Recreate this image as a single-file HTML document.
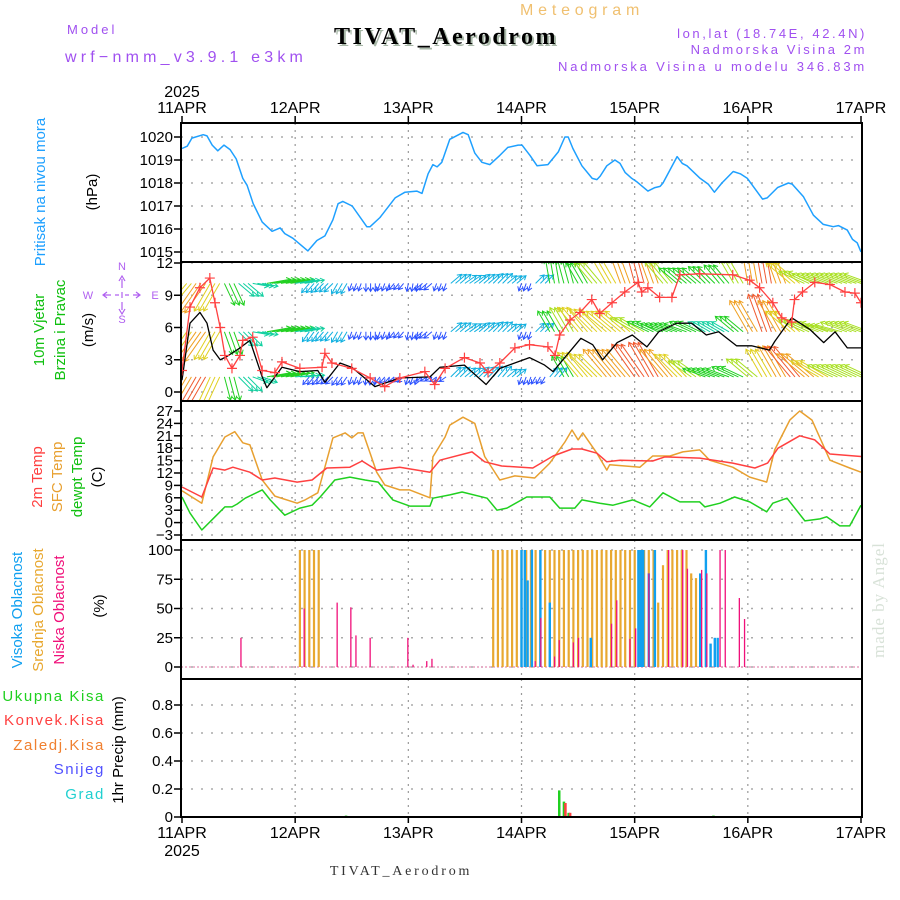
<!DOCTYPE html>
<html><head><meta charset="utf-8"><style>
html,body{margin:0;padding:0;background:#fff;}
svg{display:block;font-family:"Liberation Sans",sans-serif;}
</style></head><body>
<svg id="chart" width="900" height="900" viewBox="0 0 900 900" xmlns="http://www.w3.org/2000/svg">
<rect width="900" height="900" fill="#fff"/>
<text x="67" y="34" font-size="13" fill="#a050f0" letter-spacing="3">Model</text>
<text x="65" y="62" font-size="16" fill="#a050f0" letter-spacing="4.2">wrf−nmm_v3.9.1 e3km</text>
<text x="520" y="15" font-size="16" fill="#f0c070" letter-spacing="4.8">Meteogram</text>
<text x="448" y="46" font-size="24" font-weight="bold" font-family="Liberation Serif,serif" fill="#a8b8a8" text-anchor="middle" letter-spacing="2.5">TIVAT_Aerodrom</text>
<text x="446" y="44" font-size="24" font-weight="bold" font-family="Liberation Serif,serif" fill="#000" text-anchor="middle" letter-spacing="2.5">TIVAT_Aerodrom</text>
<text x="867" y="38" font-size="13" fill="#a050f0" text-anchor="end" letter-spacing="2.6">lon,lat (18.74E, 42.4N)</text>
<text x="867" y="54" font-size="13" fill="#a050f0" text-anchor="end" letter-spacing="2.6">Nadmorska Visina 2m</text>
<text x="867" y="71" font-size="13" fill="#a050f0" text-anchor="end" letter-spacing="2.8">Nadmorska Visina u modelu 346.83m</text>
<text x="401" y="875" font-size="14" font-family="Liberation Serif,serif" fill="#333" text-anchor="middle" letter-spacing="2.8">TIVAT_Aerodrom</text>
<text transform="translate(884,600) rotate(-90)" font-size="17" font-family="Liberation Serif,serif" fill="#d8e2d8" text-anchor="middle" letter-spacing="1">made by Angel</text>

<g font-size="15" fill="#000">
<text transform="translate(45,192) rotate(-90)" fill="#1ea0ff" text-anchor="middle">Pritisak na nivou mora</text>
<text transform="translate(97,192) rotate(-90)" text-anchor="middle">(hPa)</text>
<text transform="translate(44,330) rotate(-90)" fill="#10c010" text-anchor="middle">10m Vjetar</text>
<text transform="translate(65,330) rotate(-90)" fill="#10c010" text-anchor="middle">Brzina i Pravac</text>
<text transform="translate(93,330) rotate(-90)" text-anchor="middle">(m/s)</text>
<text transform="translate(42,477) rotate(-90)" fill="#ff4040" text-anchor="middle">2m Temp</text>
<text transform="translate(62,477) rotate(-90)" fill="#e8a030" text-anchor="middle">SFC Temp</text>
<text transform="translate(82,477) rotate(-90)" fill="#10c010" text-anchor="middle">dewpt Temp</text>
<text transform="translate(102,477) rotate(-90)" text-anchor="middle">(C)</text>
<text transform="translate(22,610) rotate(-90)" fill="#10a0f0" text-anchor="middle">Visoka Oblacnost</text>
<text transform="translate(43,610) rotate(-90)" fill="#e8a830" text-anchor="middle">Srednja Oblacnost</text>
<text transform="translate(64,610) rotate(-90)" fill="#f0107a" text-anchor="middle">Niska Oblacnost</text>
<text transform="translate(104,606) rotate(-90)" text-anchor="middle">(%)</text>
<text x="105" y="701" fill="#20d020" text-anchor="end" letter-spacing="1.6">Ukupna  Kisa</text>
<text x="105" y="725" fill="#ff4040" text-anchor="end" letter-spacing="1.6">Konvek.Kisa</text>
<text x="105" y="750" fill="#f08030" text-anchor="end" letter-spacing="1.6">Zaledj.Kisa</text>
<text x="105" y="774" fill="#5050ff" text-anchor="end" letter-spacing="1.6">Snijeg</text>
<text x="105" y="799" fill="#20d0d0" text-anchor="end" letter-spacing="1.6">Grad</text>
<text transform="translate(123,750) rotate(-90)" text-anchor="middle">1hr Precip (mm)</text>
</g>
<g fill="#b060f0" font-size="11">
<text x="122" y="270" text-anchor="middle">N</text>
<text x="122" y="323" text-anchor="middle">S</text>
<text x="88" y="299" text-anchor="middle">W</text>
<text x="155" y="299" text-anchor="middle">E</text>
<path d="M122 279V288M122 292V298M122 302V310M104 295H111M115 295H119M125 295H129M133 295H140M107 292L103 295L107 298M136 292L140 295L136 298M119 281L122 276L125 281M119 309L122 314L125 309" stroke="#b060f0" stroke-width="1.2" fill="none"/>
</g>
<g id="plot"></g>
</svg>
<script>
// ---------- data ----------
const dayLabels = ["11APR","12APR","13APR","14APR","15APR","16APR","17APR"];
const yearLabel = "2025";
const pressTicks = [1015,1016,1017,1018,1019,1020];
const windTicks = [0,3,6,9,12];
const tempTicks = [-3,0,3,6,9,12,15,18,21,24,27];
const cloudTicks = [0,25,50,75,100];
const precipTicks = [0,0.2,0.4,0.6,0.8];
const precipTickLabels = ["0","0.2","0.4","0.6","0.8"];

const pressHours = [0,1.1,2.1,4.5,5.3,6.4,7.6,8.9,10.2,11.5,12.9,13.8,15.1,17,19.1,20.8,21.8,23.5,26.7,28.6,30.3,32,33.1,34.1,36.1,39.2,39.9,42,43.5,45.2,47.3,49.8,50.9,52.2,53.2,54.1,55.1,56.8,59.6,60.7,62.1,63.6,65.3,67.4,69.1,71.3,72.1,73.8,75.3,77.6,79.8,81.2,81.9,82.9,84.8,87,88,88.7,90.1,91.8,92.9,94,95.4,96.5,98.8,100.3,101.4,102,105,106.1,107.1,109.9,111.6,112.9,114.5,116.9,118.4,119.9,123.1,124.1,126.3,128.6,129.4,131.8,133.9,136,138.1,139.2,141.1,142.2,143.2,144];
const pressVals = [1019.5,1019.6,1019.95,1020.1,1020.05,1019.65,1019.4,1019.65,1019.45,1019.05,1018.2,1017.9,1017.1,1016.3,1015.9,1016.05,1015.8,1015.6,1015.05,1015.5,1015.7,1016.4,1017.1,1017.2,1017.0,1016.1,1016.1,1016.5,1016.9,1017.35,1017.6,1017.65,1017.55,1018.4,1018.8,1018.7,1018.9,1019.9,1020.2,1020.1,1019.3,1018.9,1018.8,1019.2,1019.55,1019.65,1019.65,1019.2,1018.75,1018.8,1019.35,1020,1020,1019.5,1018.75,1018.2,1018.15,1018.3,1018.75,1019,1018.85,1018.45,1018.2,1018.05,1017.65,1017.8,1017.85,1018,1019.15,1018.85,1018.75,1018.2,1017.95,1017.6,1018,1018.5,1018.4,1018.2,1017.3,1017.35,1017.8,1018,1017.95,1017.4,1016.6,1016.2,1016.1,1016.15,1015.95,1015.55,1015.4,1015.0];

const t2Hours = [0,4.2,6.6,9.1,10.8,14.4,17,19.7,24.4,27.6,30.7,35.6,38.2,41.3,46.2,52.6,54.7,61.5,64.2,67.8,74.4,78.7,82.7,84.8,88,90.1,92.9,99.8,102.4,109.8,116.8,121.5,124.2,126.4,131,134.2,137.4,144];
const t2Vals = [8.6,6.2,13.2,12.7,13.4,12.2,10.3,10.8,9.8,10.3,13.2,13.4,14.9,12.7,13.4,12.2,15.1,17.1,14.7,13.7,13.2,16.1,17.8,17.8,16.8,14.7,15.1,14.9,15.9,15.6,14.4,13.2,14.4,18,21,20,16.6,16];
const sfcHours = [0,4.2,6.6,9.1,11.2,12.9,14.4,17,19.7,24.4,26.1,28.8,30.7,32,34.6,36,37.3,38.4,41.3,43,46.2,48.3,52.6,53.2,55.8,56.8,59.6,62.1,64.2,67.4,70.6,74.8,78,81.2,82.7,84,85,88,90.1,90.7,97.1,99.8,103.5,106.2,109.8,111.9,116.8,120.4,124,125.7,128.9,131,133.6,137.4,141.6,144];
const sfcVals = [7.7,4.7,15.9,20.7,22,19.3,18.8,10.3,6.4,4.7,5.5,7.2,15.1,20.5,21.7,20.5,21.7,21.7,12.2,9.1,7.9,7.9,6,15.9,20.7,23.6,25.5,24,16,10.3,11.3,10.8,14.4,19.5,22.4,20,21.7,16.8,12.7,14,13.4,16.1,16.1,17.1,17.6,15.1,13.4,11,9.8,17.6,24.8,27,24.8,15.1,13.2,12.2];
const dewHours = [0,1.7,4.2,7,9.1,10.6,11.7,13.4,17,18.7,21.8,25,27.6,29.3,32.4,35.6,38.8,41.6,44.7,48.3,52.6,53.2,56.8,59.4,64.7,66.8,68.9,73.1,78,80.1,83.3,84.8,88.6,91.4,95.6,99.2,102,105.6,109.8,110.9,114.1,117.2,120.4,124,125.3,128.3,132.1,135.3,136.7,139.5,141.6,144];
const dewVals = [6.2,2.3,-1.8,1.4,3.8,3.8,4.5,5.9,7.9,5.5,1.8,3.5,4.2,6.2,10.3,11,10.3,9.8,5.5,4,4,5.9,6.7,7.4,5.9,3,3.5,6.2,6.2,3.5,3.5,5.5,4.7,4.2,5.5,3.8,7.2,5,5,3.8,4.7,6.2,5,2.6,4.7,5.9,0.4,0.9,1.4,-0.8,-0.8,4.2];

const spdHours = [0,1.7,3.8,5.3,6.6,8.1,9.5,12.3,14.4,17,18,21.2,25,28.8,30.3,33.5,36,40.9,46.2,52.6,54.7,59.9,64.5,67.4,73.7,76.9,78.7,84.6,87.1,89.2,92.3,95.5,98.6,101.1,104.9,108.1,111.2,113.8,117.6,120.8,124.6,125.7,129.3,133.2,136.1,138.5,141.1,144];
const spdVals = [1.1,6.4,7.4,6.4,3.9,3,3.3,4.1,4.8,1.4,0.4,2.3,1.9,2,0.9,2.7,2.3,0.5,1.3,1.4,2.3,2.5,0.7,2.2,3.2,2.5,1.9,5,4.4,3,4.6,5.3,4.2,5.6,6.4,6.4,5.3,5.6,4.3,4.3,3.9,4.7,6.9,5.8,4.6,5.6,4.1,4.1];
const gustHours = [0,1.7,3.8,5.9,7,8.1,9.1,10.6,12.3,12.9,15,17,19.7,21.2,25,29.7,30.3,31.8,36,39.9,43,46.2,51.5,53.6,55.8,59.9,63.2,64.9,67.4,70.6,73.7,77.6,79.1,80.1,82.3,84.4,86.9,88.6,91.2,93.9,96.7,97.5,98.8,101.3,103.9,105.6,109.8,116.8,120.4,122.5,125.3,127.2,129.3,129.9,131.6,134.2,137.4,140.6,142.7,144];
const gustVals = [2,7.9,9.7,10.6,8.3,6,3.4,2.2,3.4,4.8,5.1,2,1.8,2.8,2.2,2.3,3.6,2.7,2.2,1.3,0.5,1.3,1.9,0.7,2.2,3.2,2.7,1.8,2.7,4.1,4.4,4.2,3.4,5.3,6.7,7.4,8.6,7.3,8.3,9.3,10.2,9.3,9.7,8.8,8.8,10.9,11,10.9,10.4,9.7,8.3,6.9,6.5,8.6,9.3,10.2,10,9.3,9.2,8.3];

// wind vectors every 3 h, direction the wind blows TO (compass deg)
const windRowLevels = [1.4, 5.6, 10.1];
const windBottomDir = [210,210,205,165,135,110,80,80,85,220,225,215,200,185,220,230,200,240,235,45,50,45,40,50,200,210,40,330,320,315,320,320,325,330,320,315,305,290,290,295,310,330,330,320,310,300,295,295,295];
const windBottomSpd = [9,10,8,6,5,4,6,6,5,2.5,2.5,2.5,2,2,2,2,2,2,2,3.5,3.5,3.5,3.5,3,2,2,3,6,8,8,9,9,10,10,9,8,7,6,6,6,7,8,9,10,9,8,7,7,7];
const windMidDir = [215,215,210,160,135,100,80,80,80,215,220,210,200,180,200,220,190,230,200,50,55,50,45,50,200,45,330,330,320,315,310,310,300,295,290,290,295,300,300,310,330,340,330,310,295,290,285,290,290];
const windMidSpd = [8,9,8,6,5,4,6,6,5,3,3,3,2,2,2,2,2,2.5,2,3.5,3.5,3.5,3.5,3,2,3,6,7,8,8,8,8,7,6,6,6,6,5,5,6,9,10,9,8,7,7,7,7,7];
const windTopDir = [220,215,210,155,130,100,80,80,80,220,225,210,200,180,200,220,190,230,200,50,55,50,45,50,200,45,350,345,330,320,330,340,345,340,320,310,310,315,320,330,350,350,340,310,295,290,290,290,290];
const windTopSpd = [8,9,8,6,5,4,6,6,5,3,3,3,2,2,2,2,2,2.5,2,3.5,3.5,3.5,3.5,3,2,3,6,6,6,7,8,9,10,9,7,6,6,6,6,7,9,10,9,8,7,7,7,7,7];

const highHours = [72,72.7,73.3,74.2,76,78,86.7,96.8,97.3,97.8,99,100.3,109.9,111.1,112.1,113,113.6];
const highVals = [100,100,74,100,100,55,25,100,100,100,80,100,80,100,20,25,25];
const midHours = [25,26,27,28,29,66,67,68,69,70,71,72,73,74,75,76,77,78,79,80,81,82,83,84,85,86,87,88,89,90,91,92,93,94,95,96,97,98,99,100,101,102,103,104,105,106,107,108,109,110];
const midVals = [100,100,100,100,100,100,100,100,100,100,100,100,100,100,100,100,100,100,100,100,100,100,100,100,100,100,100,100,100,100,100,100,100,100,100,100,100,100,100,100,55,87,100,100,100,100,100,80,76,27];
const lowHours = [12.5,25.9,32.9,35.8,36.9,39.9,47.9,49,51.9,53,74.9,76.1,79,80,83,84.1,91.1,92.2,95,96.2,99,103.2,106.2,107.2,110.2,111.3,114.1,115.2,118.2,119.3];
const lowVals = [25,50,55,51,27,25,25,2,5,7,5,42,9,23,21,25,37,57,24,33,80,100,100,84,83,80,100,100,59,41];

const totPrecipHours = [34.8,80,81,82,112.7];
const totPrecipVals = [0.01,0.19,0.11,0.03,0.01];
const convPrecipHours = [81,82];
const convPrecipVals = [0.10,0.03];

// ---------- axes ----------
const X0 = 182, X1 = 861, XL = 181, XR = 862;
const xH = h => X0 + h * (X1 - X0) / 144;
const yP = v => 137 + (1020 - v) * 23;
const yW = v => 392 - v * 10.75;
const yT = v => 411 + (27 - v) * 4.133;
const yC = v => 667 - v * 1.17;
const yR = v => 817 - v * 140;
const panels = [
 {name:'pressure', top:123, bot:262, ticks:pressTicks, labels:pressTicks.map(String), f:yP},
 {name:'wind', top:262, bot:401, ticks:windTicks, labels:windTicks.map(String), f:yW},
 {name:'temperature', top:401, bot:540, ticks:tempTicks, labels:tempTicks.map(v=>v<0?'−'+(-v):String(v)), f:yT},
 {name:'cloud', top:540, bot:679, ticks:cloudTicks, labels:cloudTicks.map(String), f:yC},
 {name:'precip', top:679, bot:817, ticks:precipTicks, labels:precipTickLabels, f:yR}
];
const NS = 'http://www.w3.org/2000/svg';
const plot = document.getElementById('plot');
function mk(tag, attrs, parent){ const e=document.createElementNS(NS,tag); for(const k in attrs) e.setAttribute(k,attrs[k]); (parent||plot).appendChild(e); return e; }

const defs = mk('defs',{});
panels.forEach((p,i)=>{
  const cp = mk('clipPath',{id:'clip'+i},defs);
  mk('rect',{x:XL,y:p.top,width:XR-XL,height:p.bot-p.top},cp);
});

// grids & ticks
panels.forEach((p,i)=>{
  const g = mk('g',{});
  
  
  for(let d=1; d<6; d++){
    const vx = xH(d*24);
    mk('line',{x1:vx,x2:vx,y1:p.top,y2:p.bot,stroke:'#999','stroke-dasharray':'2,5','stroke-width':1.2},g);
  }
  p.ticks.forEach((t,j)=>{
    const yy = p.f(t);
    mk('line',{x1:XL,x2:XR,y1:yy,y2:yy,stroke:'#aaa','stroke-dasharray':'2,8','stroke-width':1.5},g);
    mk('line',{x1:XL-7,x2:XL,y1:yy,y2:yy,stroke:'#000','stroke-width':1.5},g);
    const tx = mk('text',{x:XL-8,y:yy+5,'font-size':15,'text-anchor':'end',fill:'#000'},g);
    tx.textContent = p.labels[j];
    
    
  });
});

// date labels top and bottom
dayLabels.forEach((lb,d)=>{
  const vx = xH(d*24);
  const t1 = mk('text',{x:vx,y:113,'font-size':16,'text-anchor':'middle',fill:'#000'});
  t1.textContent = lb;
  
  
  mk('line',{x1:vx,x2:vx,y1:116,y2:123,stroke:'#000','stroke-width':1.5});
  const t2 = mk('text',{x:vx,y:838,'font-size':16,'text-anchor':'middle',fill:'#000'});
  t2.textContent = lb;
  
  
  mk('line',{x1:vx,x2:vx,y1:817,y2:823,stroke:'#000','stroke-width':1.5});
});
[[97,'top-year-label'],[856,'bottom-year-label']].forEach(([yy,nm])=>{
  const t = mk('text',{x:X0,y:yy,'font-size':16,'text-anchor':'middle',fill:'#000'});
  t.textContent = yearLabel;
  
  
});

function line(hours, vals, f, color, clip, name, w){
  const d = hours.map((h,i)=>(i?'L':'M')+xH(h).toFixed(1)+' '+f(vals[i]).toFixed(1)).join('');
  const e = mk('path',{d:d,fill:'none',stroke:color,'stroke-width':w||1.5,'clip-path':'url(#clip'+clip+')','stroke-linejoin':'round'});
  
  
  return e;
}
// pressure
line(pressHours, pressVals, yP, '#1ea0ff', 0, 'pressure-line');

// wind arrows
function windColor(s){
  if(s<1.8) return '#8a20f0';
  if(s<2.8) return '#2a50ff';
  if(s<3.8) return '#10b0e0';
  if(s<5.2) return '#10d0a0';
  if(s<6.5) return '#20d020';
  if(s<7.5) return '#a8e020';
  if(s<8.5) return '#e0d020';
  if(s<9.5) return '#f0a020';
  return '#f05a30';
}
const windRows = [[windBottomDir,windBottomSpd],[windMidDir,windMidSpd],[windTopDir,windTopSpd]];
const wg = mk('g',{'clip-path':'url(#clip1)'});


windRows.forEach(([dirs,spds],r)=>{
  const by = yW(windRowLevels[r]);
  dirs.forEach((dir,i)=>{
    const s = spds[i];
    const a = dir*Math.PI/180;
    const L = s*4;
    const dx = Math.sin(a), dy = -Math.cos(a);
    const col = windColor(s);
    for(let k=0;k<3;k++){
      const bx = xH(i*3+k);
      const ex = bx+dx*L, ey = by+dy*L;
      const hx1 = ex - dx*4 + dy*2.5, hy1 = ey - dy*4 - dx*2.5;
      const hx2 = ex - dx*4 - dy*2.5, hy2 = ey - dy*4 + dx*2.5;
      const ar = mk('path',{d:`M${bx.toFixed(1)} ${by.toFixed(1)}L${ex.toFixed(1)} ${ey.toFixed(1)}M${hx1.toFixed(1)} ${hy1.toFixed(1)}L${ex.toFixed(1)} ${ey.toFixed(1)}L${hx2.toFixed(1)} ${hy2.toFixed(1)}`,stroke:col,'stroke-width':1,fill:'none'},wg);
      
      
    }
  });
});
line(spdHours, spdVals, yW, '#000', 1, 'wind-speed-line', 1.3);
line(gustHours, gustVals, yW, '#ff4040', 1, 'wind-gust-line', 1.3);
const gg = mk('g',{'clip-path':'url(#clip1)'});


gustHours.forEach((h,i)=>{
  const cx = xH(h), cy = yW(gustVals[i]);
  const m = mk('path',{d:`M${cx-5} ${cy}H${cx+5}M${cx} ${cy-5}V${cy+5}`,stroke:'#ff4040','stroke-width':1.2},gg);
  
  
});

// temperatures
line(sfcHours, sfcVals, yT, '#e8a030', 2, 'sfc-temp-line');
line(t2Hours, t2Vals, yT, '#ff4040', 2, 't2m-line');
line(dewHours, dewVals, yT, '#20d020', 2, 'dewpoint-line');

// cloud bars
function bars(hours, vals, f, color, w, clip, name, off){
  const g = mk('g',{'clip-path':'url(#clip'+clip+')'});
  
  
  hours.forEach((h,i)=>{
    const x = xH(h)+(off||0);
    const y0 = f(0), y1 = f(vals[i]);
    const b = mk('rect',{x:(x-w/2).toFixed(1),y:y1.toFixed(1),width:w,height:Math.max(0.5,y0-y1).toFixed(1),fill:color},g);
    
    
  });
}
mk('line',{x1:XL,x2:XR,y1:yC(0),y2:yC(0),stroke:'#e8a0c0','stroke-width':1.5,'stroke-dasharray':'2,2'});
bars(midHours, midVals, yC, '#e8a830', 2.2, 3, 'mid-cloud-bar');
bars(highHours, highVals, yC, '#10a0f0', 2.4, 3, 'high-cloud-bar');
bars(lowHours, lowVals, yC, '#f0107a', 1.3, 3, 'low-cloud-bar');

// precip bars
bars(totPrecipHours, totPrecipVals, yR, '#20d020', 2.5, 4, 'total-precip-bar');
bars(convPrecipHours, convPrecipVals, yR, '#ff4040', 2.5, 4, 'conv-precip-bar', 1.5);

// frames
panels.forEach(p=>{
  const r = mk('rect',{x:XL,y:p.top,width:XR-XL,height:p.bot-p.top,fill:'none',stroke:'#000','stroke-width':2});
  
  
});
</script>
</body></html>
